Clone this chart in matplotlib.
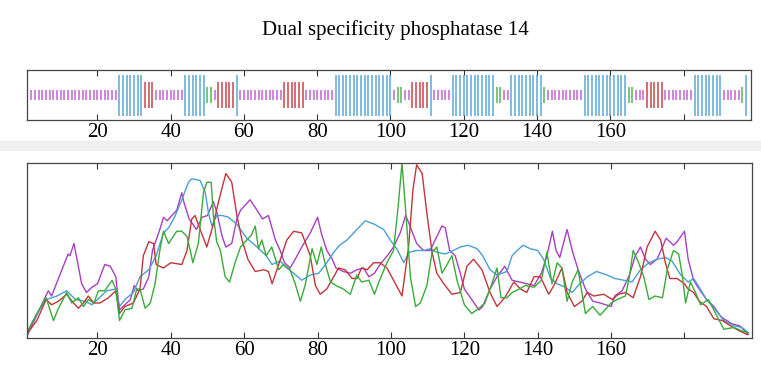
import matplotlib
matplotlib.use("Agg")
import matplotlib.pyplot as plt
import numpy as np

plt.rcParams['font.family'] = ['Liberation Serif', 'DejaVu Serif']

title = "Dual specificity phosphatase 14"

# secondary structure per residue (C coil, H helix, E strand, T turn, - none)
ss_runs = [('-', 1), ('C', 24), ('H', 7), ('E', 3), ('C', 8), ('H', 6), ('T', 2),
           ('C', 1), ('E', 5), ('H', 1), ('C', 12), ('E', 6), ('C', 8), ('H', 16),
           ('C', 1), ('T', 2), ('C', 2), ('E', 5), ('H', 1), ('C', 5), ('H', 12),
           ('T', 2), ('C', 2), ('H', 9), ('T', 1), ('C', 10), ('H', 12), ('T', 2),
           ('C', 3), ('E', 5), ('C', 8), ('H', 8), ('C', 5), ('T', 1), ('H', 1)]
ss_half = {'C': 0.19, 'H': 0.82, 'E': 0.53, 'T': 0.33}
ss_color = {'C': '#c264d2', 'H': '#5aa9d8', 'E': '#c9464a', 'T': '#58b458'}

xticks = [20, 40, 60, 80, 100, 120, 140, 160, 180]
xticklabels = ['20', '40', '60', '80', '100', '120', '140', '160', '']

purple_x = [1, 6.6, 7.5, 12, 12.5, 13.6, 15.7, 17, 18.5, 20, 22, 23.5, 25, 26, 27, 29, 30, 31,
            32.5, 34, 35, 37, 38, 39, 41.6, 43, 43.5, 45, 47, 48.5, 50, 51.6, 52.5, 54, 55,
            56.6, 58, 59, 61.6, 63.5, 65, 66.6, 68.5, 69.8, 71, 72.5, 73.9, 75.7, 78, 80, 81,
            82.5, 84, 85, 87, 89, 90.7, 92.5, 94, 95.5, 97, 99, 100.7, 102.5, 104, 105, 107,
            108.9, 110.7, 112.5, 113.9, 114.8, 116, 117.5, 118.9, 120, 122, 124, 125, 127,
            128.9, 131, 133, 135, 137, 139, 141, 142.5, 144, 145, 146, 148, 149.4, 151, 153,
            155, 157, 160, 161, 163, 165, 166.6, 168, 169.4, 170.7, 172.5, 174, 175, 177, 178,
            180, 181, 182.5, 184, 186, 188, 190, 193, 195, 196.5, 197.4]
purple_y = [0.02, 0.27, 0.24, 0.48, 0.47, 0.54, 0.31, 0.26, 0.29, 0.31, 0.42, 0.41, 0.35, 0.16,
            0.18, 0.22, 0.30, 0.27, 0.28, 0.35, 0.50, 0.62, 0.69, 0.67, 0.73, 0.83, 0.78, 0.68,
            0.62, 0.69, 0.70, 0.78, 0.72, 0.58, 0.52, 0.54, 0.68, 0.73, 0.79, 0.73, 0.68, 0.70,
            0.56, 0.50, 0.43, 0.40, 0.45, 0.52, 0.60, 0.69, 0.60, 0.50, 0.45, 0.40, 0.38, 0.37,
            0.39, 0.40, 0.35, 0.37, 0.42, 0.47, 0.52, 0.60, 0.70, 0.65, 0.54, 0.50, 0.50, 0.58,
            0.64, 0.63, 0.50, 0.47, 0.37, 0.28, 0.22, 0.16, 0.18, 0.28, 0.35, 0.41, 0.33, 0.32,
            0.31, 0.30, 0.37, 0.47, 0.61, 0.50, 0.46, 0.62, 0.50, 0.39, 0.28, 0.21, 0.20, 0.18,
            0.24, 0.27, 0.36, 0.47, 0.52, 0.45, 0.42, 0.45, 0.52, 0.57, 0.53, 0.55, 0.61, 0.45,
            0.33, 0.28, 0.22, 0.18, 0.12, 0.08, 0.07, 0.04, 0.02]

blue_x = [1, 3.5, 6, 9, 11.6, 14, 16.6, 18.5, 20, 22.5, 25, 26, 27.5, 29.8, 31.6, 34, 36, 38,
          39.4, 41, 43, 44.8, 45.7, 48, 49.4, 50.3, 51.2, 52.5, 54, 55.7, 58, 60.7, 63.5, 66,
          67.6, 69.8, 71.6, 73.5, 75.7, 78, 80.3, 82.5, 84.4, 86, 88, 90.7, 93, 95.5, 98,
          99.8, 101.6, 103.5, 105, 107, 108.9, 110.7, 112.5, 114.8, 117, 118.9, 121, 123.5,
          125, 127, 128.9, 131.6, 133, 134.4, 136, 138, 140, 141.6, 143.5, 145.3, 147.5,
          149.4, 151, 153.5, 156, 158.9, 161, 163.5, 165.7, 168, 170.3, 172.5, 174.8, 176.6,
          179, 181, 182.5, 184, 186, 188.5, 190.7, 193.5, 195.7, 197.4]
blue_y = [0.04, 0.14, 0.22, 0.24, 0.27, 0.22, 0.21, 0.19, 0.22, 0.27, 0.28, 0.18, 0.22, 0.26,
          0.35, 0.39, 0.47, 0.60, 0.63, 0.69, 0.79, 0.89, 0.91, 0.90, 0.83, 0.71, 0.64, 0.70,
          0.70, 0.69, 0.65, 0.57, 0.52, 0.47, 0.42, 0.44, 0.40, 0.37, 0.33, 0.36, 0.37, 0.43,
          0.49, 0.53, 0.56, 0.62, 0.67, 0.65, 0.62, 0.56, 0.51, 0.43, 0.49, 0.50, 0.50, 0.51,
          0.49, 0.48, 0.50, 0.52, 0.53, 0.51, 0.47, 0.39, 0.36, 0.38, 0.47, 0.50, 0.53, 0.51,
          0.50, 0.45, 0.34, 0.31, 0.29, 0.26, 0.30, 0.35, 0.38, 0.36, 0.34, 0.33, 0.32, 0.39,
          0.43, 0.45, 0.46, 0.44, 0.36, 0.32, 0.34, 0.29, 0.22, 0.16, 0.10, 0.07, 0.06, 0.03]

red_x = [1, 3.5, 6, 7.5, 9.4, 11.6, 13.5, 14.8, 16.2, 17.5, 19, 20.7, 23, 25, 26, 27.5, 29.8,
         31.6, 32.5, 34, 35.3, 36, 38, 40, 43, 44.4, 45.7, 46.6, 48, 49.8, 51.6, 53, 55,
         56.6, 58, 59.4, 61, 63, 65.3, 66.6, 67.6, 69.4, 71.6, 73.5, 75.7, 78, 79.4, 80.7,
         82.5, 84.4, 85.7, 87.5, 89.4, 90.7, 92, 93.5, 95.3, 97, 98.9, 100.7, 103, 104.8,
         106, 107, 108.5, 109.8, 111.2, 112.5, 114.4, 116.6, 118.9, 120.7, 122.5, 124.8,
         127, 128.9, 131, 133.5, 135.3, 137, 139, 140.7, 143, 144.4, 146.6, 148, 150, 152,
         153.5, 155.3, 158, 160.3, 162, 164, 166, 168, 169.8, 172, 173.5, 174.8, 176, 178,
         180, 181, 182.5, 184, 186, 188, 190.3, 192.5, 195, 197.1]
red_y = [0.03, 0.10, 0.22, 0.19, 0.21, 0.25, 0.20, 0.17, 0.20, 0.24, 0.20, 0.20, 0.23, 0.27,
         0.14, 0.18, 0.20, 0.28, 0.47, 0.55, 0.54, 0.42, 0.40, 0.43, 0.42, 0.50, 0.68, 0.70,
         0.62, 0.52, 0.65, 0.78, 0.94, 0.89, 0.70, 0.56, 0.45, 0.38, 0.39, 0.38, 0.31, 0.42,
         0.56, 0.61, 0.60, 0.47, 0.30, 0.25, 0.28, 0.35, 0.40, 0.39, 0.34, 0.34, 0.40, 0.39,
         0.43, 0.43, 0.40, 0.33, 0.24, 0.52, 0.85, 0.99, 0.94, 0.71, 0.49, 0.37, 0.31, 0.25,
         0.26, 0.41, 0.45, 0.39, 0.26, 0.18, 0.23, 0.32, 0.28, 0.26, 0.35, 0.35, 0.25, 0.30,
         0.40, 0.26, 0.18, 0.21, 0.26, 0.24, 0.25, 0.22, 0.25, 0.26, 0.23, 0.35, 0.52, 0.61,
         0.56, 0.43, 0.34, 0.34, 0.31, 0.28, 0.26, 0.21, 0.18, 0.11, 0.10, 0.07, 0.04, 0.02]

green_x = [1, 3.5, 6, 8, 9.4, 11.6, 13, 14.8, 16.2, 17.5, 19, 20.3, 22, 24, 25, 26, 27.5, 29.4,
           30.7, 31.6, 33, 34.4, 35.7, 37, 38, 39.4, 41.6, 43, 44.4, 45.3, 46, 47.5, 48.9,
           49.8, 51, 51.6, 52.5, 53.5, 54.8, 56, 57.5, 59, 60.7, 62, 63, 63.9, 64.8, 66,
           67.5, 69.4, 70.7, 72.5, 73.9, 75.3, 76.6, 78.5, 79.8, 81, 82, 83.5, 85, 87, 88.9,
           90.7, 92, 94, 95.5, 96.7, 98.9, 100.7, 102, 103, 104, 105.3, 106.7, 108, 109.8,
           111.2, 112.5, 113.9, 115.3, 116.6, 118, 120, 122, 124, 125.6, 127.5, 128.9, 130,
           131.6, 133, 135, 136.6, 139, 141, 142.5, 143.9, 145.3, 146.6, 148, 149.4, 151, 153,
           155, 157, 160, 161.6, 163.9, 165, 166, 167.5, 168.9, 170.3, 172, 174, 175.3, 177,
           178.4, 179.4, 180.3, 181.6, 183, 184.4, 186.5, 188.5, 190.7, 193.5, 195.7, 197.4]
green_y = [0.04, 0.14, 0.23, 0.10, 0.17, 0.26, 0.20, 0.23, 0.18, 0.22, 0.20, 0.27, 0.27, 0.33,
           0.28, 0.10, 0.16, 0.17, 0.28, 0.28, 0.17, 0.20, 0.31, 0.50, 0.61, 0.54, 0.61, 0.61,
           0.58, 0.50, 0.43, 0.54, 0.83, 0.89, 0.89, 0.70, 0.55, 0.50, 0.35, 0.32, 0.43, 0.52,
           0.56, 0.59, 0.64, 0.51, 0.56, 0.47, 0.52, 0.39, 0.42, 0.39, 0.31, 0.21, 0.30, 0.51,
           0.42, 0.52, 0.43, 0.32, 0.30, 0.28, 0.25, 0.36, 0.32, 0.33, 0.25, 0.32, 0.43, 0.50,
           0.76, 1.00, 0.73, 0.35, 0.18, 0.20, 0.30, 0.49, 0.52, 0.37, 0.42, 0.47, 0.33, 0.19,
           0.14, 0.17, 0.20, 0.31, 0.40, 0.23, 0.23, 0.26, 0.28, 0.30, 0.29, 0.33, 0.49, 0.31,
           0.43, 0.40, 0.21, 0.32, 0.39, 0.14, 0.18, 0.13, 0.20, 0.22, 0.24, 0.35, 0.50, 0.43,
           0.35, 0.22, 0.24, 0.23, 0.39, 0.50, 0.48, 0.36, 0.20, 0.32, 0.26, 0.19, 0.22, 0.14,
           0.05, 0.06, 0.04, 0.03]

W, H = 761, 365
fig = plt.figure(figsize=(W / 100, H / 100), dpi=100)

# light grey separator strip like in the source image
fig.patches.append(plt.Rectangle((0, 1 - 150 / H), 1, 9 / H, transform=fig.transFigure,
                                 color='#f0f0f0', zorder=0))

fig.text(395 / W, 1 - 30 / H, title, ha='center', va='center', fontsize=15)

ax1 = fig.add_axes([27 / W, 1 - 120 / H, 724 / W, 50 / H])
ax2 = fig.add_axes([27 / W, 1 - 338 / H, 725 / W, 175 / H])

# top panel: one bar per residue
codes = ''.join(c * n for c, n in ss_runs)
res = np.arange(1, len(codes) + 1)
for c in 'CHET':
    idx = [i for i, k in enumerate(codes) if k == c]
    ax1.vlines(res[idx], -ss_half[c], ss_half[c], colors=ss_color[c], linewidth=1.1)
ax1.set_ylim(-1, 1)

ax2.plot(purple_x, purple_y, color='#a73fc4', linewidth=1.0)
ax2.plot(blue_x, blue_y, color='#4b9fd2', linewidth=1.0)
ax2.plot(red_x, red_y, color='#c2363a', linewidth=1.0)
ax2.plot(green_x, green_y, color='#3aab3a', linewidth=1.0)
ax2.set_ylim(0, 1)

for ax in (ax1, ax2):
    ax.set_xlim(0.8, 198.4)
    ax.set_xticks(xticks)
    ax.set_xticklabels(xticklabels)
    ax.set_yticks([])
    ax.tick_params(axis='x', direction='in', top=True, length=4, width=0.8,
                   color='#333333', labelsize=15, pad=2)
    for s in ax.spines.values():
        s.set_color('#444444')
        s.set_linewidth(0.9)

fig.savefig('out.png', dpi=100)
